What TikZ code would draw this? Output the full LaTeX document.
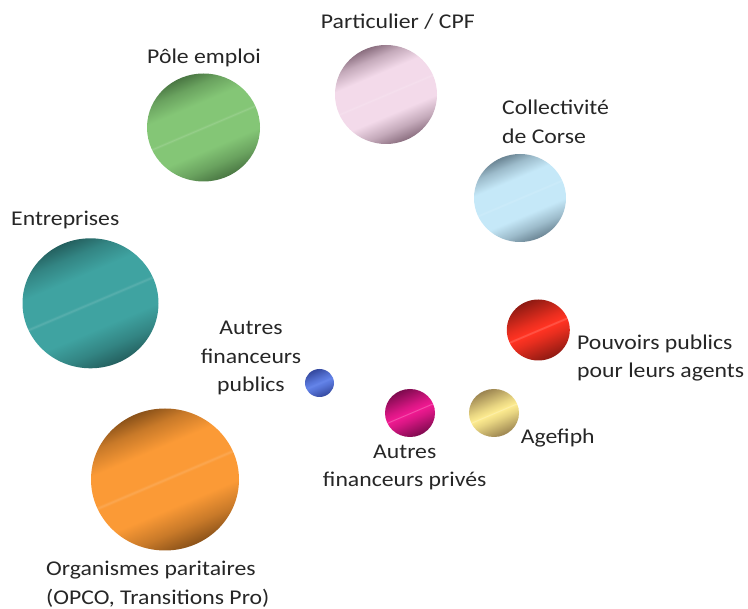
\documentclass[tikz,border=0pt]{standalone}
\usepackage{fontspec}
\setmainfont{Carlito}[FakeStretch=1.13]
\usetikzlibrary{shapes.geometric}

\pgfdeclareverticalshading[cl,cd]{coinbig}{100bp}{color(0bp)=(cd); color(25bp)=(cd); color(32bp)=(cl!55!cd); color(40bp)=(cl); color(49.3bp)=(cl); color(50bp)=(cl!85!white); color(50.7bp)=(cl); color(61bp)=(cl); color(69bp)=(cl!55!cd); color(75bp)=(cd); color(100bp)=(cd)}
\pgfdeclareverticalshading[cl,cd]{coinsmall}{100bp}{color(0bp)=(cd); color(25bp)=(cd); color(43bp)=(cl!80!cd); color(49bp)=(cl); color(50bp)=(cl!75!white); color(51bp)=(cl); color(57bp)=(cl!80!cd); color(75bp)=(cd); color(100bp)=(cd)}

\definecolor{txt}{HTML}{262626}
\definecolor{poleL}{HTML}{84C676}\definecolor{poleD}{HTML}{4A7743}
\definecolor{cpfL}{HTML}{F3DAEA}\definecolor{cpfD}{HTML}{8B6F80}
\definecolor{corseL}{HTML}{C5E8F8}\definecolor{corseD}{HTML}{6B8594}
\definecolor{entrL}{HTML}{3FA3A1}\definecolor{entrD}{HTML}{24605F}
\definecolor{opcoL}{HTML}{FB9A36}\definecolor{opcoD}{HTML}{8B5219}
\definecolor{pubL}{HTML}{6080E6}\definecolor{pubD}{HTML}{34489E}
\definecolor{pouvL}{HTML}{FF3322}\definecolor{pouvD}{HTML}{8E1A12}
\definecolor{privL}{HTML}{EE1990}\definecolor{privD}{HTML}{7D0A4E}
\definecolor{agefL}{HTML}{FBE98E}\definecolor{agefD}{HTML}{9B8450}

\begin{document}
\begin{tikzpicture}[x=1pt, y=-1pt,
  every node/.style={text=txt, font=\fontsize{21}{28.7}\selectfont},
  coin/.style 2 args={ellipse, inner sep=0pt, outer sep=0pt, /utils/exec={\colorlet{cl}{#1}\colorlet{cd}{#2}}, shade, shading=coinbig, shading angle=23},
  coinsm/.style 2 args={coin={#1}{#2}, shading=coinsmall}]
  \useasboundingbox (0,0) rectangle (748,609);
  % circles
  \node[coin={poleL}{poleD}, minimum width=113pt, minimum height=108pt] (pole) at (203.5,127.5) {};
  \node[coin={cpfL}{cpfD}, minimum width=102pt, minimum height=99pt] (cpf) at (386,94.5) {};
  \node[coin={corseL}{corseD}, minimum width=92pt, minimum height=88pt] (corse) at (520,198) {};
  \node[coin={entrL}{entrD}, minimum width=136pt, minimum height=130pt] (entr) at (90.5,303.3) {};
  \node[coin={opcoL}{opcoD}, minimum width=148pt, minimum height=142pt] (opco) at (165,479.5) {};
  \node[coinsm={pubL}{pubD}, minimum width=29pt, minimum height=28pt] (pub) at (319.5,383) {};
  \node[coinsm={pouvL}{pouvD}, minimum width=63pt, minimum height=61pt] (pouv) at (538.3,330) {};
  \node[coinsm={privL}{privD}, minimum width=50pt, minimum height=48pt] (priv) at (410,413) {};
  \node[coinsm={agefL}{agefD}, minimum width=50pt, minimum height=48pt] (agef) at (494,413) {};
  % labels
  \node[anchor=base, inner sep=0pt] (lpole) at (204,63.3) {Pôle emploi};
  \node[anchor=base west, inner sep=0pt] (lcpf) at (320.7,29) {Particulier / CPF};
  \node[anchor=base west, inner sep=0pt, align=left] (lcorse) at (502,143.3) {Collectivité\\de Corse};
  \node[anchor=base west, inner sep=0pt] (lentr) at (11,225.7) {Entreprises};
  \node[anchor=base, inner sep=0pt, align=center] (lpub) at (251,392) {Autres\\financeurs\\publics};
  \node[anchor=base west, inner sep=0pt, align=left] (lpouv) at (577,378) {Pouvoirs publics\\pour leurs agents};
  \node[anchor=base, inner sep=0pt, align=center] (lpriv) at (404.7,487) {Autres\\financeurs privés};
  \node[anchor=base west, inner sep=0pt] (lagef) at (520.7,444) {Agefiph};
  \node[anchor=base west, inner sep=0pt, align=left] (lopco) at (46,604.5) {Organismes paritaires\\(OPCO, Transitions Pro)};
\end{tikzpicture}
\end{document}
